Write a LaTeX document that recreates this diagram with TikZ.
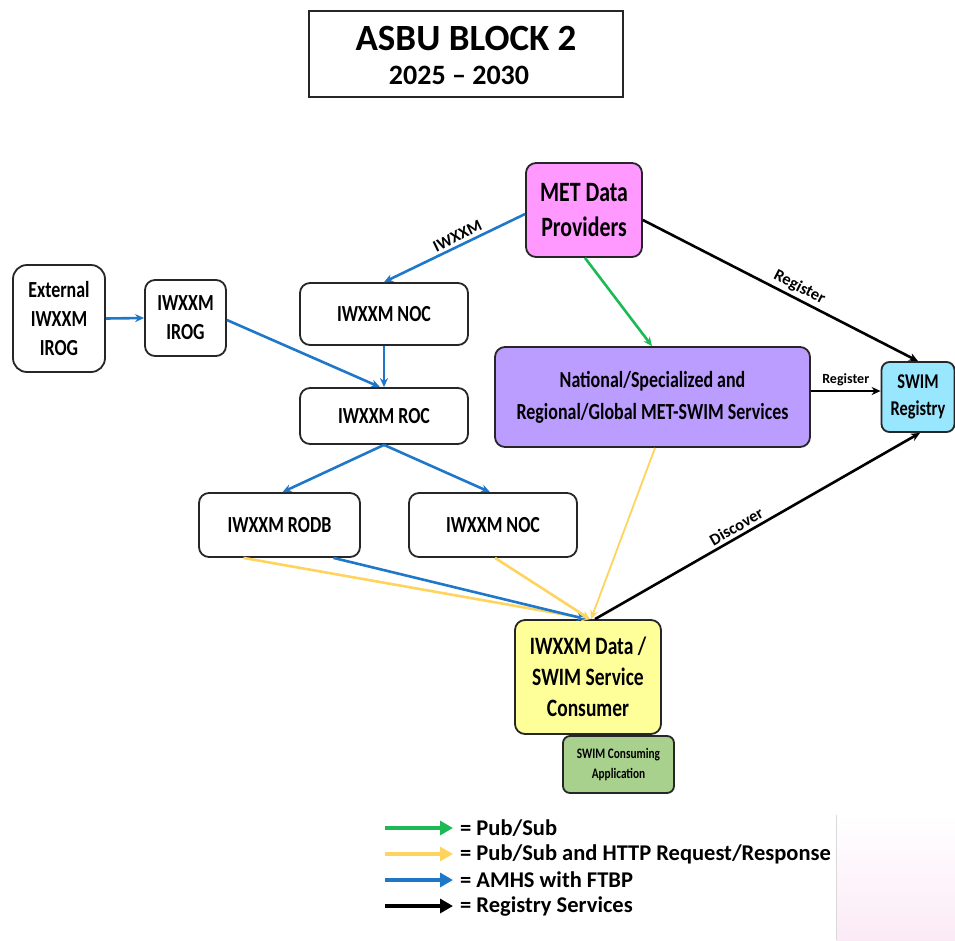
\documentclass[tikz,border=0pt]{standalone}
\usepackage{fontspec}
\setmainfont{Carlito}
\newfontfamily\condfont{Carlito}[FakeStretch=0.78]
\usetikzlibrary{arrows.meta,calc}
\definecolor{blueA}{HTML}{1F77C9}
\definecolor{yellowA}{HTML}{FFD45E}
\definecolor{greenA}{HTML}{1DB954}
\definecolor{metfill}{HTML}{FF99FF}
\definecolor{natfill}{HTML}{BB9CFF}
\definecolor{regfill}{HTML}{99E6FF}
\definecolor{consfill}{HTML}{FFFF99}
\definecolor{appfill}{HTML}{A9D18E}
\definecolor{pinkbg}{HTML}{FBEAF6}
\newcommand\fsz[2]{\fontsize{#1}{#2}\selectfont}
\begin{document}
\begin{tikzpicture}[x=1pt,y=-1pt,
  box/.style={draw=black!85,line width=1.8pt,rounded corners=10pt,align=center,
    font=\condfont\bfseries\fsz{23}{26},inner sep=0pt},
  conn/.style={line width=2.6pt,-{Stealth[length=9pt,width=8pt]}},
  bluec/.style={conn,draw=blueA},
  yelc/.style={conn,draw=yellowA},
  grnc/.style={conn,draw=greenA},
  blkc/.style={conn,draw=black},
  elab/.style={font=\bfseries\fsz{16.5}{19},sloped,above,inner sep=3pt},
  legarr/.style={line width=4.5pt,-{Triangle[length=13pt,width=14pt]}},
  legtxt/.style={anchor=west,font=\bfseries\fsz{22.5}{26},inner sep=0pt}
]
\useasboundingbox (0,0) rectangle (955,940);
% background corner
\shade[top color=white,bottom color=pinkbg] (836,815) rectangle (955,940);
\draw[black!15,line width=0.6pt] (836,815) -- (836,940);

% title
\node[draw=black!85,line width=1.4pt,minimum width=314pt,minimum height=86pt,inner sep=0pt]
  (title) at (466,54) {};
\node[font=\bfseries\fsz{37}{40}] (t1) at (466,39) {ASBU BLOCK 2};
\node[font=\bfseries\fsz{28}{30}] (t2) at (459,75) {2025 -- 2030};

% nodes
\node[box,rounded corners=14pt,minimum width=92pt,minimum height=107pt] (ext) at (59,318.5) {External\\[3pt]IWXXM\\[3pt]IROG};
\node[box,minimum width=81pt,minimum height=76pt] (irog) at (185.5,318) {IWXXM\\[3pt]IROG};
\node[box,minimum width=168pt,minimum height=62pt] (noc1) at (384,314) {IWXXM NOC};
\node[box,minimum width=168pt,minimum height=56pt] (roc) at (384,416) {IWXXM ROC};
\node[box,minimum width=161pt,minimum height=64pt] (rodb) at (279.5,525) {IWXXM RODB};
\node[box,minimum width=168pt,minimum height=64pt] (noc2) at (493,525) {IWXXM NOC};
\node[box,fill=metfill,font=\condfont\bfseries\fsz{28}{35},minimum width=116pt,minimum height=94pt] (met) at (584,210) {MET Data\\Providers};
\node[box,fill=natfill,font=\condfont\bfseries\fsz{23}{32},minimum width=315pt,minimum height=100pt] (nat) at (652.5,397) {\raisebox{-3pt}{National/Specialized and}\\\raisebox{-3pt}{Regional/Global MET-SWIM Services}};
\node[box,fill=regfill,font=\condfont\bfseries\fsz{21}{27},rounded corners=8pt,minimum width=73pt,minimum height=70pt] (reg) at (918,397) {SWIM\\Registry};
\node[box,fill=consfill,font=\condfont\bfseries\fsz{25}{31},minimum width=146pt,minimum height=114pt] (cons) at (588,677) {IWXXM Data /\\SWIM Service\\Consumer};
\node[box,fill=appfill,rounded corners=7pt,font=\condfont\bfseries\fsz{14.5}{20},minimum width=111pt,minimum height=57pt] (app) at (618.5,764.5) {SWIM Consuming\\Application};

% connectors
\draw[bluec] (ext.east) -- (irog.west);
\draw[bluec] ([yshift=-2pt]irog.east) -- ([xshift=-4pt]roc.north);
\draw[bluec] ([yshift=-4pt]met.west) -- node[elab,pos=0.45]{IWXXM} (noc1.north);
\draw[bluec] (noc1.south) -- (roc.north);
\draw[bluec] (roc.south) -- ([xshift=3pt]rodb.north);
\draw[bluec] (roc.south) -- ([xshift=-3pt]noc2.north);
\draw[yelc] ([xshift=-36pt]rodb.south) -- ([xshift=2pt]cons.north);
\draw[bluec] ([xshift=54pt]rodb.south) -- ([xshift=-2pt]cons.north);
\draw[yelc] ([xshift=2pt]noc2.south) -- ([xshift=2pt]cons.north);
\draw[yelc,line width=1.8pt] ([xshift=2.5pt]nat.south) -- ([xshift=3pt]cons.north);
\draw[grnc] ([xshift=1pt]met.south) -- ([xshift=-0.5pt]nat.north);
\draw[blkc] ([yshift=-10pt]met.east) -- node[elab,pos=0.55]{Register} (reg.north);
\draw[blkc] ([yshift=6pt]nat.east) -- node[above,font=\bfseries\fsz{14}{16},inner sep=4pt]{Register} ([yshift=6pt]reg.west);
\draw[blkc] ([xshift=7pt]cons.north) -- node[elab,pos=0.45]{Discover} ([xshift=2pt]reg.south);

% legend
\coordinate (l1a) at (385,828); \coordinate (l1b) at (453,828);
\coordinate (l2a) at (385,854); \coordinate (l2b) at (453,854);
\coordinate (l3a) at (385,880); \coordinate (l3b) at (453,880);
\coordinate (l4a) at (385,906); \coordinate (l4b) at (453,906);
\draw[legarr,draw=greenA,fill=greenA] (l1a) -- (l1b);
\draw[legarr,draw=yellowA,fill=yellowA] (l2a) -- (l2b);
\draw[legarr,draw=blueA,fill=blueA] (l3a) -- (l3b);
\draw[legarr,draw=black,fill=black] (l4a) -- (l4b);
\node[legtxt] (lg1) at (460,828) {= Pub/Sub};
\node[legtxt] (lg2) at (460,854) {= Pub/Sub and HTTP Request/Response};
\node[legtxt] (lg3) at (460,880) {= AMHS with FTBP};
\node[legtxt] (lg4) at (460,906) {= Registry Services};
\end{tikzpicture}
\end{document}
